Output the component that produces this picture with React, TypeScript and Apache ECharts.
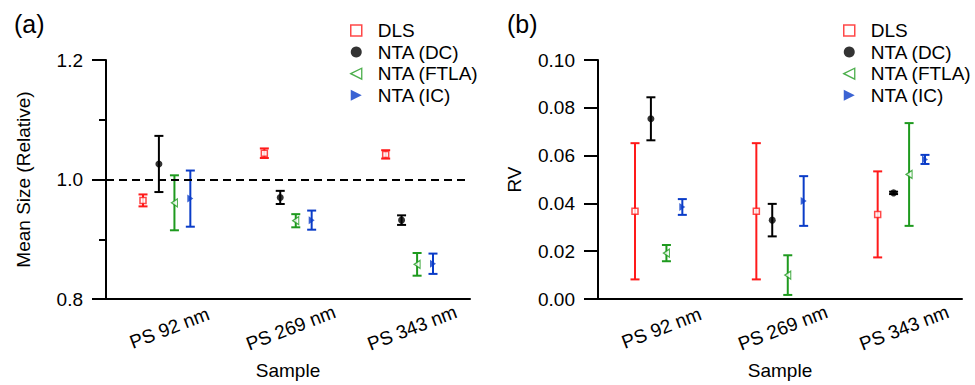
import React, { useEffect, useRef } from "react";
import * as echarts from "echarts";

const categories = ["PS 92 nm", "PS 269 nm", "PS 343 nm"];
const seriesNames = ["DLS", "NTA (DC)", "NTA (FTLA)", "NTA (IC)"];

// Panel (a): mean size (relative)
const meanDLS = [0.965, 1.044, 1.042];
const meanDLSErr = [0.01, 0.008, 0.007];
const meanDC = [1.026, 0.97, 0.932];
const meanDCErr = [0.047, 0.011, 0.008];
const meanFTLA = [0.961, 0.931, 0.858];
const meanFTLAErr = [0.046, 0.011, 0.019];
const meanIC = [0.968, 0.932, 0.859];
const meanICErr = [0.047, 0.016, 0.017];

// Panel (b): RV
const rvDLS = [0.0367, 0.0367, 0.0354];
const rvDLSErr = [0.0285, 0.0285, 0.018];
const rvDC = [0.0754, 0.033, 0.0444];
const rvDCErr = [0.009, 0.0068, 0.0005];
const rvFTLA = [0.0192, 0.01, 0.0521];
const rvFTLAErr = [0.0034, 0.0083, 0.0215];
const rvIC = [0.0385, 0.041, 0.0584];
const rvICErr = [0.0033, 0.0104, 0.0019];

const referenceLine = 1.0;

const FONT = "'Liberation Sans', Arial, sans-serif";
const RED = "#ff1a1a";
const BLACK = "#000000";
const GREEN = "#1e9a1e";
const BLUE = "#0a3cc8";
const colors = [RED, BLACK, GREEN, BLUE];
const offsets = [-0.195, -0.064, 0.064, 0.195];

const LEFT_TRI = "path://M0,5L10,0L10,10Z";
const RIGHT_TRI = "path://M0,0L10,5L0,10Z";

const markerStyles: any[] = [
  { symbol: "rect", symbolSize: 6, itemStyle: { color: "#fff", borderColor: RED, borderWidth: 1.5 } },
  { symbol: "circle", symbolSize: 7, itemStyle: { color: BLACK } },
  { symbol: LEFT_TRI, symbolSize: [6, 8], itemStyle: { color: "#fff", borderColor: GREEN, borderWidth: 1.2 } },
  { symbol: RIGHT_TRI, symbolSize: [6, 8], itemStyle: { color: BLUE } },
];

const legendItems = [
  { name: seriesNames[0], icon: "rect", itemStyle: { color: "#fff", borderColor: RED, borderWidth: 1.5 } },
  { name: seriesNames[1], icon: "circle", itemStyle: { color: BLACK, borderWidth: 0 } },
  { name: seriesNames[2], icon: LEFT_TRI, itemStyle: { color: "#fff", borderColor: GREEN, borderWidth: 1.3 } },
  { name: seriesNames[3], icon: RIGHT_TRI, itemStyle: { color: BLUE, borderWidth: 0 } },
];

export default function App() {
  const ref = useRef<HTMLDivElement>(null);
  useEffect(() => {
    if (!ref.current) return;
    const chart = echarts.init(ref.current, undefined, { renderer: "svg" });

    const panels = [
      { means: [meanDLS, meanDC, meanFTLA, meanIC], errs: [meanDLSErr, meanDCErr, meanFTLAErr, meanICErr] },
      { means: [rvDLS, rvDC, rvFTLA, rvIC], errs: [rvDLSErr, rvDCErr, rvFTLAErr, rvICErr] },
    ];

    const series: any[] = [];
    panels.forEach((panel, p) => {
      panel.means.forEach((vals, s) => {
        const errs = panel.errs[s];
        const color = colors[s];
        series.push({
          type: "custom",
          name: "err-" + p + "-" + s,
          xAxisIndex: p * 2 + 1,
          yAxisIndex: p,
          z: 2,
          silent: true,
          encode: { x: 0, y: [1, 2] },
          data: vals.map((v, i) => [i + offsets[s], v - errs[i], v + errs[i]]),
          renderItem: (params: any, api: any) => {
            const x = api.value(0);
            const lo = api.coord([x, api.value(1)]);
            const hi = api.coord([x, api.value(2)]);
            const c = 4.5;
            const style = { stroke: color, lineWidth: 2, fill: null };
            return {
              type: "group",
              children: [
                { type: "line", shape: { x1: lo[0], y1: lo[1], x2: hi[0], y2: hi[1] }, style },
                { type: "line", shape: { x1: lo[0] - c, y1: lo[1], x2: lo[0] + c, y2: lo[1] }, style },
                { type: "line", shape: { x1: hi[0] - c, y1: hi[1], x2: hi[0] + c, y2: hi[1] }, style },
              ],
            };
          },
        });
        const sc: any = {
          type: "scatter",
          name: seriesNames[s],
          xAxisIndex: p * 2 + 1,
          yAxisIndex: p,
          z: 3,
          ...markerStyles[s],
          data: vals.map((v, i) => [i + offsets[s], v]),
        };
        if (p === 0 && s === 1) {
          sc.markLine = {
            silent: true,
            symbol: "none",
            label: { show: false },
            lineStyle: { color: BLACK, width: 2, type: [8, 5] },
            data: [{ yAxis: referenceLine }],
          };
        }
        series.push(sc);
      });
    });

    const gridW = 364;
    const gridH = 242.7;
    const grids = [
      { left: 106, top: 60, width: gridW, height: gridH },
      { left: 598, top: 60, width: gridW, height: gridH },
    ];

    const axisLine = { show: true, onZero: false, lineStyle: { color: BLACK, width: 2 } };
    const xAxes: any[] = [];
    grids.forEach((g, p) => {
      xAxes.push({
        type: "category",
        gridIndex: p,
        data: categories,
        boundaryGap: true,
        axisLine,
        axisTick: { show: false },
        axisLabel: {
          interval: 0,
          rotate: 21,
          align: "center",
          verticalAlign: "middle",
          margin: 30,
          padding: [0, 0, 0, 6],
          fontSize: 19,
          fontFamily: FONT,
          color: BLACK,
        },
        name: "Sample",
        nameLocation: "middle",
        nameGap: 62,
        nameTextStyle: { fontSize: 19, fontFamily: FONT, color: BLACK },
        splitLine: { show: false },
      });
      xAxes.push({
        type: "value",
        gridIndex: p,
        min: -0.5,
        max: 2.5,
        show: false,
        axisLine: { show: false, onZero: false },
        splitLine: { show: false },
      });
    });

    const yAxes: any[] = [
      {
        type: "value",
        gridIndex: 0,
        min: 0.8,
        max: 1.2,
        interval: 0.2,
        axisLine,
        axisTick: { show: true, length: 14, lineStyle: { color: BLACK, width: 2 } },
        minorTick: { show: true, splitNumber: 2, length: 7, lineStyle: { color: BLACK, width: 2 } },
        splitLine: { show: false },
        axisLabel: {
          margin: 23,
          fontSize: 19,
          fontFamily: FONT,
          color: BLACK,
          formatter: (v: number) => v.toFixed(1),
        },
        name: "Mean Size (Relative)",
        nameLocation: "middle",
        nameGap: 73,
        nameTextStyle: { fontSize: 19, fontFamily: FONT, color: BLACK },
      },
      {
        type: "value",
        gridIndex: 1,
        min: 0,
        max: 0.1,
        interval: 0.02,
        axisLine,
        axisTick: { show: true, length: 14, lineStyle: { color: BLACK, width: 2 } },
        splitLine: { show: false },
        axisLabel: {
          margin: 23,
          fontSize: 19,
          fontFamily: FONT,
          color: BLACK,
          formatter: (v: number) => v.toFixed(2),
        },
        name: "RV",
        nameLocation: "middle",
        nameGap: 74,
        nameTextStyle: { fontSize: 19, fontFamily: FONT, color: BLACK },
      },
    ];

    const legendBase = {
      orient: "vertical",
      top: 16,
      itemWidth: 11,
      itemHeight: 11,
      itemGap: 2.6,
      selectedMode: false,
      data: legendItems,
      textStyle: { fontSize: 19, fontFamily: FONT, color: BLACK, padding: [0, 0, 0, 11] },
    };

    chart.setOption({
      animation: false,
      backgroundColor: "#fff",
      textStyle: { fontFamily: FONT },
      grid: grids,
      xAxis: xAxes,
      yAxis: yAxes,
      legend: [
        { ...legendBase, left: 345 },
        { ...legendBase, left: 838 },
      ],
      graphic: [
        { type: "text", left: 14, top: 11, style: { text: "(a)", fontSize: 25, fontFamily: FONT, fill: BLACK } },
        { type: "text", left: 507, top: 11, style: { text: "(b)", fontSize: 25, fontFamily: FONT, fill: BLACK } },
      ],
      series,
    });

    return () => chart.dispose();
  }, []);

  return (
    <div
      ref={ref}
      style={{ position: "absolute", left: 0, top: 0, width: 975, height: 385, background: "#fff" }}
    />
  );
}
